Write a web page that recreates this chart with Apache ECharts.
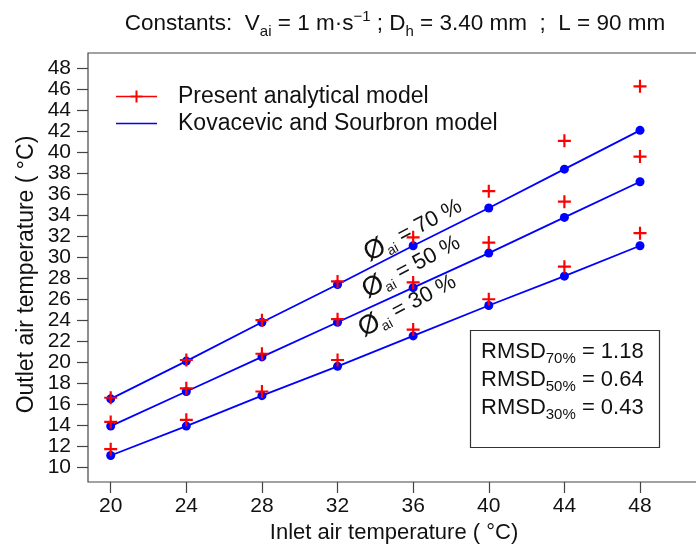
<!DOCTYPE html>
<html>
<head>
<meta charset="utf-8">
<script src="https://cdn.jsdelivr.net/npm/echarts@6/dist/echarts.min.js"></script>
<style>
  html, body { margin: 0; padding: 0; background: #fff; }
  #main { width: 696px; height: 548px; }
</style>
</head>
<body>
<div id="main"></div>
<script>
// inlet / outlet air temperatures, three humidity levels
var inletTemp = [20, 24, 28, 32, 36, 40, 44, 48];

var analytical70 = [16.6, 20.2, 24.0, 27.7, 31.9, 36.3, 41.1, 46.3];
var analytical50 = [14.3, 17.5, 20.8, 24.1, 27.6, 31.4, 35.3, 39.6];
var analytical30 = [11.7, 14.5, 17.2, 20.2, 23.1, 26.0, 29.1, 32.3];

var kovacevic70 = [16.5, 20.1, 23.8, 27.4, 31.1, 34.7, 38.4, 42.1];
var kovacevic50 = [13.9, 17.2, 20.5, 23.8, 27.1, 30.4, 33.8, 37.2];
var kovacevic30 = [11.1, 13.9, 16.8, 19.6, 22.5, 25.4, 28.2, 31.1];

var humidityLabels = ["70", "50", "30"];
var rmsdLabels = ["70%", "50%", "30%"];
var rmsdValues = ["1.18", "0.64", "0.43"];

var FONT = "Liberation Sans, Arial, sans-serif";
var TXT = "#111";
var RED = "#ff0000";
var BLUE = "#0000ff";

function pairs(xs, ys) {
  return xs.map(function (x, i) { return [x, ys[i]]; });
}

var plusPath = "path://M5,0H7V5H12V7H7V12H5V7H0V5H5Z";

var chart = echarts.init(document.getElementById("main"));

var analytical = [analytical70, analytical50, analytical30];
var kovacevic = [kovacevic70, kovacevic50, kovacevic30];

var series = [];
kovacevic.forEach(function (arr) {
  series.push({
    name: "Kovacevic and Sourbron model",
    type: "line",
    xAxisIndex: 1,
    yAxisIndex: 1,
    clip: false,
    symbol: "circle",
    symbolSize: 9,
    itemStyle: { color: BLUE },
    lineStyle: { color: BLUE, width: 1.8 },
    data: pairs(inletTemp, arr)
  });
});
analytical.forEach(function (arr) {
  series.push({
    name: "Present analytical model",
    type: "scatter",
    xAxisIndex: 1,
    yAxisIndex: 1,
    clip: false,
    symbol: plusPath,
    symbolSize: 13,
    itemStyle: { color: RED, opacity: 1 },
    z: 3,
    data: pairs(inletTemp, arr)
  });
});

// rotated humidity annotations (anchored in data units)
var annotAnchors = [[36.0, 32.6], [35.9, 29.1], [35.7, 25.4]];
var richPlain = { textBorderWidth: 0, textShadowBlur: 0, color: TXT, fontFamily: FONT };
series.push({
  type: "scatter",
  xAxisIndex: 1,
  yAxisIndex: 1,
  symbolSize: 0,
  silent: true,
  itemStyle: { color: TXT, opacity: 1 },
  data: annotAnchors.map(function (p, i) {
    return {
      value: p,
      label: {
        show: true,
        position: "inside",
        rotate: 28,
        color: TXT,
        textBorderWidth: 0,
        formatter: "{o|Ø}{s|ai}{t| = " + humidityLabels[i] + " %}",
        rich: {
          o: Object.assign({ fontSize: 27, lineHeight: 30 }, richPlain),
          s: Object.assign({ fontSize: 14, verticalAlign: "bottom", lineHeight: 14 }, richPlain),
          t: Object.assign({ fontSize: 22, lineHeight: 30 }, richPlain)
        }
      }
    };
  })
});

chart.setOption({
  animation: false,
  backgroundColor: "#fff",
  textStyle: { fontFamily: FONT, color: TXT },
  title: [
    {
      text: "Constants:  V{sub|ai} = 1 m·s{sup|−1} ; D{sub|h} = 3.40 mm  ;  L = 90 mm",
      left: 390,
      top: 4,
      textAlign: "center",
      textStyle: {
        fontFamily: FONT, fontSize: 22.5, fontWeight: "normal", color: TXT, lineHeight: 30,
        rich: {
          sub: { fontSize: 15, fontFamily: FONT, color: TXT, verticalAlign: "bottom", lineHeight: 14 },
          sup: { fontSize: 15, fontFamily: FONT, color: TXT, verticalAlign: "top", lineHeight: 14 }
        }
      }
    },
    {
      text: rmsdLabels.map(function (l, i) {
        return "RMSD{sub|" + l + "} = " + rmsdValues[i];
      }).join("\n"),
      left: 470,
      top: 330,
      padding: [8, 16, 26, 11],
      borderColor: "#333",
      borderWidth: 1.2,
      backgroundColor: "#fff",
      textStyle: {
        fontFamily: FONT, fontSize: 22, fontWeight: "normal", color: TXT, lineHeight: 28,
        rich: {
          sub: { fontSize: 15, fontFamily: FONT, color: TXT, verticalAlign: "bottom", lineHeight: 14 }
        }
      }
    }
  ],
  legend: {
    orient: "vertical",
    left: 116,
    top: 85,
    padding: 0,
    itemWidth: 41,
    itemHeight: 14,
    itemGap: 4,
    selectedMode: false,
    textStyle: { fontFamily: FONT, fontSize: 23, color: TXT, padding: [0, 0, 0, 16] },
    data: [
      { name: "Present analytical model", icon: "path://M0,6.3H41V7.7H0Z M19.5,1H21.5V13H19.5Z M14.5,6H26.5V8H14.5Z" },
      { name: "Kovacevic and Sourbron model", icon: "path://M0,0H41V1.6H0Z" }
    ]
  },
  grid: [
    // outer frame
    { left: 88, top: 53, width: 612, height: 429, show: true, borderColor: "#444", borderWidth: 1.2, backgroundColor: "transparent", containLabel: false, outerBoundsMode: "none" },
    // data area (20..48, 10..48)
    { left: 110.7, top: 68.5, width: 529.3, height: 398.5, containLabel: false, outerBoundsMode: "none" }
  ],
  xAxis: [
    {
      gridIndex: 0, type: "value", min: 0, max: 1,
      axisLine: { show: false }, axisTick: { show: false }, axisLabel: { show: false }, splitLine: { show: false },
      name: "Inlet air temperature ( °C)",
      nameLocation: "middle",
      nameGap: 40,
      nameTextStyle: { fontFamily: FONT, fontSize: 22, color: TXT }
    },
    {
      gridIndex: 1, type: "value", min: 20, max: 48, interval: 4,
      offset: 15,
      axisLine: { show: false },
      axisTick: { show: true, length: 11, lineStyle: { color: "#444", width: 1.2 } },
      axisLabel: { fontFamily: FONT, fontSize: 21, color: TXT, margin: 14 },
      splitLine: { show: false }
    }
  ],
  yAxis: [
    {
      gridIndex: 0, type: "value", min: 0, max: 1,
      axisLine: { show: false }, axisTick: { show: false }, axisLabel: { show: false }, splitLine: { show: false },
      name: "Outlet air temperature ( °C)",
      nameLocation: "middle",
      nameGap: 50,
      nameTextStyle: { fontFamily: FONT, fontSize: 23, color: TXT, padding: [0, 14, 0, 0] }
    },
    {
      gridIndex: 1, type: "value", min: 10, max: 48, interval: 2,
      offset: 22.7,
      axisLine: { show: false },
      axisTick: { show: true, length: 11, lineStyle: { color: "#444", width: 1.2 } },
      axisLabel: { fontFamily: FONT, fontSize: 21, color: TXT, margin: 17 },
      splitLine: { show: false }
    }
  ],
  series: series
});
</script>
</body>
</html>
